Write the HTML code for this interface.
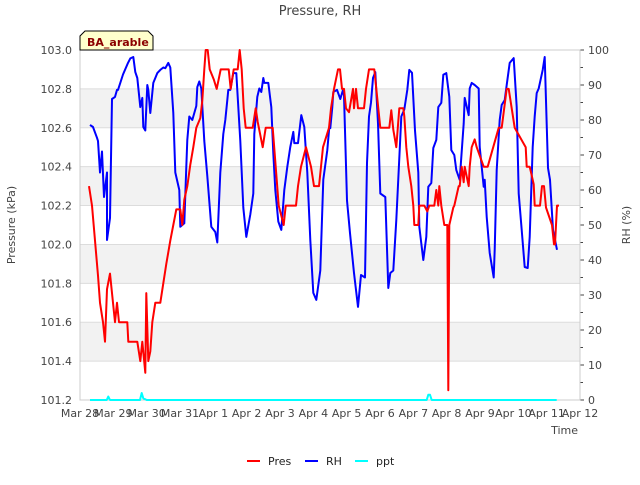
<!DOCTYPE html>
<html><head><meta charset="utf-8"><style>
body{margin:0;background:#fff;font-family:"Liberation Sans","DejaVu Sans",sans-serif;}
svg text{font-family:"DejaVu Sans","Liberation Sans",sans-serif;}
</style></head><body>
<svg id="chart" width="640" height="480" xmlns="http://www.w3.org/2000/svg">
<rect width="640" height="480" fill="#fff"/>
<text x="320" y="15" text-anchor="middle" font-size="13" fill="#444">Pressure, RH</text>
<g id="grid"></g><g id="axes"></g><g id="series"></g>
<g>
<path d="M80,50 L80,36 L85,31 L148,31 L153,36 L153,50 Z" fill="#ffffcc" stroke="#000" stroke-width="1"/>
<text x="87" y="46" font-size="11" font-weight="bold" fill="#8b0000">BA_arable</text>
</g>
<text x="15" y="225" font-size="11" fill="#444" text-anchor="middle" transform="rotate(-90 15 225)">Pressure (kPa)</text>
<text x="630" y="225" font-size="11" fill="#444" text-anchor="middle" transform="rotate(-90 630 225)">RH (%)</text>
<text x="578" y="434" font-size="11" fill="#444" text-anchor="end">Time</text>
<g>
<g><line x1="247" y1="461" x2="260" y2="461" stroke="#f00" stroke-width="2"/><text x="268" y="465" font-size="11" fill="#222">Pres</text></g>
<g><line x1="305" y1="461" x2="318" y2="461" stroke="#00f" stroke-width="2"/><text x="326" y="465" font-size="11" fill="#222">RH</text></g>
<g><line x1="355" y1="461" x2="368" y2="461" stroke="#0ff" stroke-width="2"/><text x="376" y="465" font-size="11" fill="#222">ppt</text></g>
</g>
</svg>
<script>
const xTickLabels=["Mar 28","Mar 29","Mar 30","Mar 31","Apr 1","Apr 2","Apr 3","Apr 4","Apr 5","Apr 6","Apr 7","Apr 8","Apr 9","Apr 10","Apr 11","Apr 12"];
const leftTicks=[101.2,101.4,101.6,101.8,102.0,102.2,102.4,102.6,102.8,103.0];
const rightTicks=[0,10,20,30,40,50,60,70,80,90,100];
const presT=[0.27,0.36,0.45,0.54,0.60,0.69,0.75,0.81,0.90,0.99,1.05,1.11,1.17,1.42,1.45,1.72,1.81,1.87,1.96,1.99,2.05,2.11,2.17,2.26,2.41,2.50,2.59,2.71,2.80,2.89,3.01,3.07,3.13,3.22,3.31,3.40,3.49,3.61,3.67,3.73,3.77,3.83,3.89,4.01,4.10,4.22,4.46,4.52,4.61,4.73,4.79,4.85,4.91,4.97,5.18,5.27,5.33,5.48,5.57,5.78,5.87,5.96,6.11,6.17,6.48,6.54,6.63,6.78,6.93,7.02,7.17,7.29,7.47,7.53,7.62,7.74,7.80,7.86,7.92,7.98,8.07,8.19,8.22,8.28,8.34,8.52,8.58,8.67,8.83,8.89,8.95,9.01,9.28,9.34,9.40,9.49,9.58,9.70,9.73,9.79,9.85,9.94,10.0,10.03,10.15,10.18,10.33,10.42,10.48,10.63,10.69,10.75,10.78,10.84,10.93,11.02,11.05,11.08,11.20,11.23,11.36,11.39,11.45,11.51,11.54,11.66,11.69,11.75,11.84,11.90,12.11,12.23,12.56,12.65,12.80,12.86,12.95,13.04,13.37,13.40,13.49,13.61,13.64,13.80,13.86,13.92,13.98,14.16,14.22,14.25,14.31,14.37];
const presV=[102.3,102.2,102.02,101.84,101.7,101.6,101.5,101.77,101.85,101.7,101.6,101.7,101.6,101.6,101.5,101.5,101.4,101.5,101.34,101.75,101.4,101.45,101.6,101.7,101.7,101.8,101.9,102.02,102.1,102.18,102.18,102.1,102.23,102.3,102.41,102.5,102.6,102.65,102.74,102.9,103.0,103.0,102.9,102.85,102.8,102.9,102.9,102.8,102.9,102.9,103.0,102.9,102.7,102.6,102.6,102.7,102.63,102.5,102.6,102.6,102.4,102.2,102.1,102.2,102.2,102.3,102.4,102.5,102.4,102.3,102.3,102.5,102.6,102.7,102.8,102.9,102.9,102.8,102.8,102.7,102.68,102.8,102.7,102.8,102.7,102.7,102.8,102.9,102.9,102.8,102.7,102.6,102.6,102.69,102.59,102.5,102.7,102.7,102.66,102.5,102.4,102.3,102.2,102.1,102.1,102.2,102.2,102.17,102.2,102.2,102.28,102.2,102.3,102.2,102.1,102.1,101.25,102.1,102.19,102.2,102.3,102.3,102.4,102.32,102.4,102.3,102.4,102.5,102.54,102.5,102.4,102.4,102.6,102.6,102.8,102.8,102.7,102.6,102.5,102.4,102.4,102.31,102.2,102.2,102.3,102.3,102.19,102.1,102.0,102.0,102.2,102.2,102.3,102.3];
const rhT=[0.30,0.39,0.51,0.54,0.60,0.66,0.72,0.81,0.81,0.90,0.96,1.05,1.11,1.14,1.29,1.44,1.51,1.60,1.66,1.72,1.81,1.87,1.90,1.96,2.02,2.05,2.11,2.20,2.32,2.41,2.50,2.56,2.65,2.71,2.80,2.86,2.98,3.01,3.13,3.19,3.22,3.28,3.37,3.49,3.52,3.58,3.64,3.73,3.82,3.94,4.06,4.12,4.21,4.30,4.36,4.42,4.45,4.51,4.60,4.69,4.81,4.90,4.99,5.11,5.20,5.23,5.32,5.38,5.44,5.50,5.53,5.65,5.74,5.80,5.86,5.95,6.04,6.13,6.22,6.31,6.40,6.43,6.54,6.64,6.73,6.82,6.91,7.00,7.09,7.21,7.30,7.42,7.48,7.51,7.57,7.60,7.71,7.81,7.89,7.92,8.01,8.10,8.22,8.34,8.43,8.55,8.61,8.67,8.73,8.79,8.86,8.94,9.01,9.16,9.25,9.31,9.40,9.49,9.61,9.64,9.73,9.82,9.88,9.96,10.05,10.15,10.18,10.30,10.39,10.45,10.54,10.60,10.69,10.75,10.84,10.90,10.99,11.08,11.14,11.23,11.29,11.39,11.51,11.54,11.66,11.69,11.75,11.84,11.96,11.99,12.11,12.14,12.20,12.29,12.41,12.44,12.50,12.59,12.65,12.74,12.80,12.89,13.01,13.10,13.16,13.25,13.34,13.43,13.49,13.58,13.64,13.70,13.76,13.88,13.94,14.04,14.10,14.19,14.31];
const rhV=[78.6,78,74.9,74,65,71,58,65,45.7,52,86,86.6,88.6,88.6,93,96.3,97.6,98,93.7,92,83.7,86.3,78,77,90,88.6,82,90.6,93.4,94.3,95,94.8,96.3,95,82,65,60,49.5,50.5,66.6,74.3,81,80,84,89.4,91,89,74,64,49.5,48,45,65,76,80,85.7,88.6,88.6,93.4,93.4,74,55,46.6,53,59,76,86.6,89,88,92,90.6,90.6,83.7,70.5,60,51,48.6,60,66.6,72.3,76.6,73.4,73.4,81.4,78,65,45.7,30.6,28.6,37,63,71.4,78,77.7,83.7,88,88.6,86,88.6,87,57,47.7,36.3,26.6,35.7,35,67.7,81,85,92,93.7,79,59,58,32,36.3,37,51.4,75,81,83,88.6,94.3,93.5,77,65,49.5,40,46.6,60.9,62,72,74.3,83.7,84.9,92.9,93.4,86.6,71.4,70,65.7,62.9,79,86.3,81.4,89,90.6,90,89,72.3,60.9,62.9,52.3,42,35,42.9,65.7,80,84.3,85.7,90,96.3,97.7,83.7,59,48.6,38,37.7,46.6,72.3,81,87.7,89,94.3,98,66.3,62.9,48.6,42.9,36.3,40.9,71.4,80.6,86.3,84.9];
const pptT=[0.3,0.8,0.85,0.9,1.0,1.8,1.85,1.9,2.0,10.4,10.45,10.5,10.55,14.3];
const pptV=[0,0,1,0,0,0,2,0.5,0,0,1.5,1.5,0,0];

const NS="http://www.w3.org/2000/svg";
const L=80,R=580,T=50,B=400;
function xs(t){return L+t*(R-L)/15;}
function yL(p){return B-(p-101.2)*(B-T)/1.8;}
function yR(v){return B-v*(B-T)/100;}
function mk(tag,attrs,parent){const e=document.createElementNS(NS,tag);for(const k in attrs)e.setAttribute(k,attrs[k]);parent.appendChild(e);return e;}
const grid=document.getElementById('grid'),axes=document.getElementById('axes'),series=document.getElementById('series');
for(let i=0;i<leftTicks.length-1;i++){
  if(i%2===1){const b=mk('rect',{x:L,y:yL(leftTicks[i+1]),width:R-L,height:yL(leftTicks[i])-yL(leftTicks[i+1]),fill:'#f2f2f2'},grid);
  
  }
}
leftTicks.forEach(v=>{
  const g=mk('line',{x1:L,x2:R,y1:yL(v),y2:yL(v),stroke:'#dcdcdc','stroke-width':1},grid);
  
  
  const t=mk('text',{x:L-8,y:yL(v)+4,'text-anchor':'end','font-size':11,fill:'#444'},axes);t.textContent=v.toFixed(1);
  
  
});
rightTicks.forEach(v=>{
  const t=mk('text',{x:R+8,y:yR(v)+4,'font-size':11,fill:'#444'},axes);t.textContent=v;
  
  
  mk('line',{x1:R,x2:R+4,y1:yR(v),y2:yR(v),stroke:'#444'},axes);
  if(v<100)mk('line',{x1:R,x2:R+3,y1:yR(v+5),y2:yR(v+5),stroke:'#444'},axes);
});
xTickLabels.forEach((s,i)=>{
  const t=mk('text',{x:xs(i),y:417,'text-anchor':'middle','font-size':11,fill:'#444'},axes);t.textContent=s;
  
  
});
const fr=mk('rect',{x:L,y:T,width:R-L,height:B-T,fill:'none',stroke:'#ccc'},axes);


function line(T_,V_,f,color,name){
  const d=T_.map((t,i)=>(i?'L':'M')+xs(t).toFixed(1)+','+f(V_[i]).toFixed(1)).join('');
  const p=mk('path',{d:d,fill:'none',stroke:color,'stroke-width':2,'stroke-linejoin':'round'},series);
  
  
}
line(pptT,pptV,yR,'#00ffff','ppt-line');
line(rhT,rhV,yR,'#0000ff','rh-line');
line(presT,presV,yL,'#ff0000','pres-line');
</script>
</body></html>
